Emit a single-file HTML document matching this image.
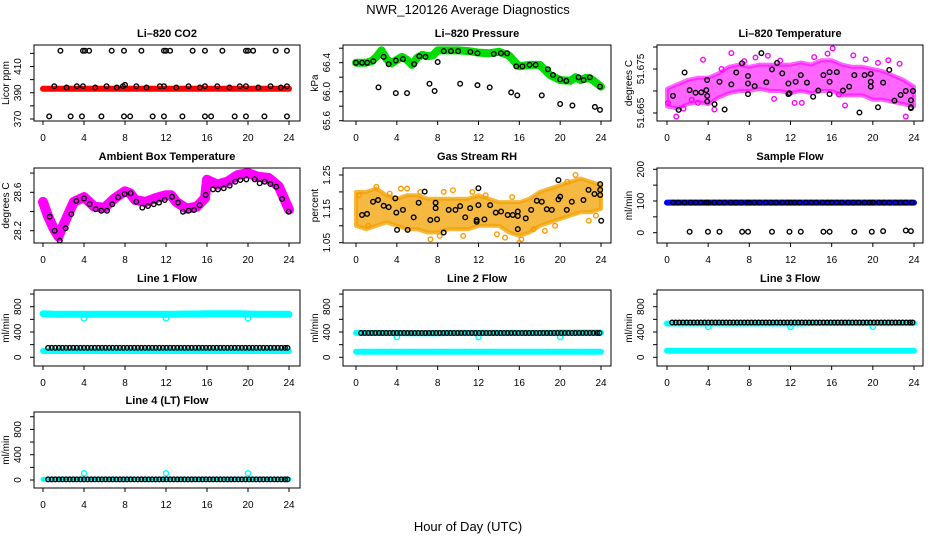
<!DOCTYPE html>
<html><head><meta charset="utf-8">
<style>
html,body{margin:0;padding:0;background:#fff;}
svg{display:block;font-family:"Liberation Sans",Arial,sans-serif;}
.tl{font-size:10px;fill:#000;}
.tt{font-size:11px;font-weight:bold;fill:#000;}
</style></head>
<body>
<svg id="chart" width="936" height="540" viewBox="0 0 936 540" xmlns="http://www.w3.org/2000/svg">
<text x="468" y="14" text-anchor="middle" font-size="13">NWR_120126  Average Diagnostics</text>
<text x="468" y="531" text-anchor="middle" font-size="13">Hour of Day (UTC)</text>
</svg>
<script>
// ---------- data ----------
const hours = [0,1,2,3,4,5,6,7,8,9,10,11,12,13,14,15,16,17,18,19,20,21,22,23,24];
const xTicks = [0,4,8,12,16,20,24];

// CO2
const co2Band = [393,393,393,393,393,393,393,393,393,393,393,393,393,393,393,393,393,393,393,393,393,393,393,393,393];
const co2MidT = [1.1,2.3,3.3,3.9,5.1,6.2,7.2,7.8,8,9.1,10.1,11.4,11.8,13,14.2,15.3,15.8,17,18.2,19.2,19.8,21,22.2,23.2,23.8];
const co2MidV = [395,394,395,395,394,395,394,395,396,395,394,395,395,394,395,394,395,395,394,395,395,394,395,394,395];
const co2HiT = [1.7,3.9,4.1,4.5,6.7,7.9,9.6,11.8,12,12.4,14.6,15.8,17.5,19.8,20,20.5,22.7,23.8];
const co2HiV = [422,422,422,422,422,422,422,422,422,422,422,422,422,422,422,422,422,422];
const co2LoT = [0.6,2.7,3.8,5.7,7.9,8.5,10.7,11.8,13.6,15.8,16.4,18.7,19.8,21.6,23.8];
const co2LoV = [372,372,372,372,372,372,372,372,372,372,372,372,372,372,372];

// Pressure
const presBandT = [0,1,1.5,2,2.5,3,3.5,4,4.5,5,5.5,6,6.5,7,7.5,8,9,10,11,12,13,14,15,15.5,16,17,18,19,20,21,21.5,22,22.5,23,24];
const presBandV = [66.40,66.40,66.42,66.48,66.57,66.45,66.39,66.44,66.48,66.44,66.37,66.47,66.51,66.49,66.50,66.57,66.57,66.57,66.56,66.54,66.53,66.55,66.50,66.42,66.35,66.37,66.37,66.23,66.16,66.15,66.20,66.16,66.19,66.18,66.07];
const presMidT = [0,0.6,1.1,1.7,2.7,3.2,3.9,4.6,5.7,6.2,6.8,8,8.6,9.3,10,11.2,11.9,13.5,14.2,14.8,15.7,16.3,17,17.6,18.8,19.3,20,20.6,21.8,22.3,22.9,23.9];
const presMidV = [66.40,66.40,66.40,66.42,66.48,66.38,66.43,66.45,66.38,66.49,66.48,66.41,66.56,66.56,66.56,66.55,66.53,66.52,66.53,66.53,66.35,66.35,66.37,66.37,66.31,66.23,66.17,66.15,66.20,66.16,66.20,66.07];
const presLoT = [2.2,3.9,5.0,7.2,7.7,10.2,11.9,13.1,15.2,15.8,18.2,20,21.2,23.4,23.9];
const presLoV = [66.06,65.98,65.98,66.11,66.01,66.11,66.09,66.06,65.99,65.95,65.95,65.83,65.81,65.79,65.75];

// Li-820 Temperature
const tempLo = [51.6665,51.6660,51.6670,51.6675,51.6670,51.6685,51.6695,51.6700,51.6700,51.6705,51.6700,51.6700,51.6695,51.6700,51.6695,51.6700,51.6700,51.6690,51.6690,51.6690,51.6680,51.6680,51.6675,51.6670,51.6665];
const tempHi = [51.6705,51.6715,51.6725,51.6730,51.6730,51.6740,51.6755,51.6760,51.6755,51.6760,51.6760,51.6760,51.6760,51.6765,51.6760,51.6770,51.6770,51.6760,51.6755,51.6755,51.6750,51.6745,51.6735,51.6725,51.6710];
const tempScatT = [0.1,0.9,3.0,3.5,4.6,6.25,12.4,13.1,16.1,17.3,18.1,20.5,23.2,1.6,5.3,7.5,9.8,11.0,14.3,15.6,19.3,21.5,22.6,2.4,8.6,10.4,16.7];
const tempScatV = [51.6673,51.6642,51.6673,51.6771,51.6658,51.6786,51.6673,51.6673,51.6797,51.6667,51.6781,51.6764,51.6642,51.6660,51.6750,51.6768,51.6780,51.6769,51.6777,51.6785,51.6772,51.6770,51.6762,51.6680,51.6776,51.6682,51.6692];
const tempMidT = [0.58,1.13,1.71,2.2,2.78,3.33,3.82,3.91,3.91,4.62,3.9,5.1,5.6,6.25,6.73,7.29,7.87,7.87,7.87,8.52,9.17,9.65,10.2,10.7,11.2,11.8,11.8,11.9,12.5,13.0,13.6,14.2,14.7,15.2,15.8,15.8,15.8,16.5,17.1,17.7,18.2,18.7,19.2,19.8,19.8,19.8,20.5,21.0,21.6,22.1,22.7,23.2,23.9,23.7,23.7,23.7];
const tempMidV = [51.6689,51.6657,51.6742,51.6702,51.6696,51.6697,51.6702,51.6689,51.6676,51.6670,51.6725,51.6721,51.6658,51.6715,51.6742,51.6763,51.6734,51.6717,51.6693,51.6711,51.6786,51.6720,51.6749,51.6764,51.6740,51.6717,51.6693,51.6695,51.6721,51.6736,51.6719,51.6687,51.6701,51.6736,51.6721,51.6693,51.6743,51.6743,51.6701,51.6710,51.6736,51.6651,51.6736,51.6721,51.6739,51.6710,51.6663,51.6719,51.6748,51.6678,51.6691,51.6700,51.6700,51.6679,51.6663,51.6661];

// Ambient Box Temperature
const ambBandT = [0,0.5,1,1.5,2,2.5,3,4,4.5,5,6,7,8,8.5,9,10,11,12,12.5,13,14,15,15.8,16,17,18,19,20,21,22,23,23.5,24];
const ambBandV = [28.50,28.35,28.23,28.14,28.26,28.38,28.50,28.55,28.50,28.45,28.44,28.54,28.61,28.59,28.52,28.50,28.54,28.57,28.57,28.50,28.43,28.45,28.54,28.73,28.68,28.71,28.78,28.80,28.76,28.75,28.66,28.54,28.42];
const ambMidT = [0.65,1.14,1.63,2.21,2.76,3.25,4.0,4.55,5.14,5.69,6.24,6.76,7.32,7.97,8.55,9.1,9.69,10.24,10.8,11.32,11.87,12.59,13.17,13.66,14.21,14.73,15.28,15.87,16.59,17.07,17.63,18.21,18.76,19.25,19.84,20.65,21.14,21.63,22.18,22.76,23.32,23.97];
const ambMidV = [28.346,28.200,28.096,28.225,28.374,28.509,28.537,28.478,28.423,28.408,28.408,28.475,28.548,28.582,28.590,28.502,28.440,28.457,28.475,28.492,28.520,28.554,28.492,28.398,28.408,28.416,28.465,28.572,28.631,28.631,28.642,28.669,28.710,28.728,28.735,28.735,28.694,28.710,28.686,28.658,28.530,28.398];

// Gas Stream RH
const rhLo = [1.10,1.09,1.10,1.11,1.10,1.09,1.09,1.08,1.08,1.09,1.09,1.09,1.10,1.10,1.10,1.08,1.07,1.08,1.10,1.11,1.12,1.13,1.14,1.14,1.15];
const rhHi = [1.20,1.20,1.21,1.19,1.18,1.19,1.19,1.18,1.18,1.18,1.18,1.18,1.19,1.18,1.17,1.17,1.17,1.18,1.20,1.21,1.22,1.23,1.24,1.23,1.22];
const rhScatT = [4.4,5.0,8.6,7.3,8.2,1.2,16.2,16.0,21.5,20.7,15.3,12.7,2.0,3.3,6.3,10.5,13.8,18.5,22.8,23.5,0.3,9.5,14.6,19.5,11.4,17.4];
const rhScatV = [1.21,1.21,1.20,1.06,1.07,1.10,1.06,1.05,1.25,1.23,1.185,1.19,1.215,1.195,1.20,1.07,1.075,1.085,1.115,1.13,1.19,1.205,1.065,1.10,1.20,1.09];
const rhMidT = [0.59,1.08,1.67,2.16,2.71,3.2,3.85,3.95,4.02,4.6,5.06,5.65,6.14,6.73,7.28,7.8,7.8,7.94,8.59,9.08,9.74,10.2,10.7,11.18,11.82,11.82,11.99,11.99,12.58,13.14,13.69,14.21,14.86,15.36,15.85,15.85,15.85,16.63,17.16,17.71,18.2,18.69,19.18,19.83,19.83,20.0,20.65,21.14,22.28,22.78,23.36,23.92,23.92,23.92,24.02];
const rhMidV = [1.132,1.135,1.171,1.176,1.159,1.155,1.181,1.139,1.088,1.147,1.088,1.125,1.168,1.201,1.117,1.168,1.152,1.119,1.080,1.147,1.147,1.158,1.125,1.152,1.117,1.112,1.211,1.161,1.119,1.161,1.139,1.142,1.132,1.132,1.142,1.129,1.090,1.122,1.147,1.174,1.171,1.149,1.147,1.235,1.178,1.186,1.147,1.171,1.176,1.206,1.194,1.223,1.206,1.191,1.115];

// Sample Flow
const sampBand = [95,95,95,95,95,95,95,95,95,95,95,95,95,95,95,95,95,95,95,95,95,95,95,95,95];
const sampMidT = [0.6,1.1,1.7,2.3,2.8,3.3,3.8,4,4.6,5.1,5.6,6.2,6.7,7.2,7.8,8,8.5,9,9.6,10.1,10.6,11.2,11.7,12,12.4,12.9,13.5,14,14.5,15.1,15.6,16,16.5,17,17.6,18.1,18.6,19.2,19.7,20,20.6,21.1,21.6,22.2,22.7,23.2,23.8];
const sampMidV = [95,95,95,95,95,95,95,95,95,95,95,95,95,95,95,95,95,95,95,95,95,95,95,95,95,95,95,95,95,95,95,95,95,95,95,95,95,95,95,95,95,95,95,95,95,95,95];
const sampLoT = [2.2,3.98,5.1,7.3,7.87,10.2,11.9,13.0,15.2,15.8,18.2,19.9,21.0,23.2,23.7];
const sampLoV = [3,3,3,3,3,3,3,3,3,3,3,3,5,7,5];

// Line flows
const flowT = [0.5,0.85,1.2,1.55,1.9,2.25,2.6,2.95,3.3,3.65,4.0,4.35,4.7,5.05,5.4,5.75,6.1,6.45,6.8,7.15,7.5,7.85,8.2,8.55,8.9,9.25,9.6,9.95,10.3,10.65,11.0,11.35,11.7,12.05,12.4,12.75,13.1,13.45,13.8,14.15,14.5,14.85,15.2,15.55,15.9,16.25,16.6,16.95,17.3,17.65,18.0,18.35,18.7,19.05,19.4,19.75,20.1,20.45,20.8,21.15,21.5,21.85,22.2,22.55,22.9,23.25,23.6,23.85];
const dipT = [4,12,20];
const l1High = [690,680,680,680,680,680,680,680,680,680,680,680,680,680,685,685,690,690,690,690,685,680,680,680,680];
const l1Low = [100,100,100,100,100,100,100,100,100,100,100,100,100,100,100,100,100,100,100,100,100,100,100,100,100];
const l1Mid = 150;
const l1Dip = [615,615,615];
const l2High = [385,385,385,385,385,380,380,380,380,385,385,385,385,385,385,385,385,385,385,385,390,390,390,390,390];
const l2Low = [88,88,88,88,88,88,88,88,88,88,88,88,88,88,88,88,88,88,88,88,88,88,88,88,88];
const l2Mid = 385;
const l2Dip = [320,320,320];
const l3High = [535,535,535,535,535,535,535,535,535,535,535,535,535,535,540,540,540,540,540,540,540,540,540,540,540];
const l3Low = [104,104,104,104,104,104,104,104,104,104,104,104,104,104,104,104,104,104,104,104,104,104,104,104,104];
const l3Mid = 550;
const l3Dip = [480,480,480];
const l4Band = [10,10,10,10,10,10,10,10,10,10,10,10,10,10,10,10,10,10,10,10,10,10,10,10,10];
const l4Mid = 10;
const l4Dip = [105,105,105];

// ---------- layout ----------
const svg = document.getElementById('chart');
const NS = 'http://www.w3.org/2000/svg';
const COLS = [{l:34,r:300,x0:43,x24:289},{l:343,r:611,x0:356,x24:601},{l:657,r:923,x0:667,x24:914}];
const ROWS = [{t:45,b:121},{t:168,b:243},{t:290,b:366},{t:412,b:488}];

function mk(tag, attrs, parent){
  const e = document.createElementNS(NS, tag);
  for (const k in attrs) e.setAttribute(k, attrs[k]);
  (parent||svg).appendChild(e);
  return e;
}

function makePanel(key, title, ylab, ci, ri, v1, y1, v2, y2, yticks, ylabels, dec){
  const c = COLS[ci], r = ROWS[ri];
  const g = mk('g', {});
  
  
  const xs = t => c.x0 + t * (c.x24 - c.x0) / 24;
  const ys = v => y1 + (v - v1) * (y2 - y1) / (v2 - v1);
  const clipId = 'clip-' + key;
  const cp = mk('clipPath', {id: clipId}, g);
  mk('rect', {x:c.l, y:r.t, width:c.r-c.l, height:r.b-r.t}, cp);
  const marks = mk('g', {'clip-path':'url(#'+clipId+')'}, g);
  
  
  const box = mk('rect', {x:c.l, y:r.t, width:c.r-c.l, height:r.b-r.t, fill:'none', stroke:'#000', 'stroke-width':1}, g);
  
  
  const tt = mk('text', {x:(c.l+c.r)/2, y:r.t-8, 'text-anchor':'middle', class:'tt'}, g);
  tt.textContent = title;
  
  
  xTicks.forEach(t => {
    mk('line', {x1:xs(t), x2:xs(t), y1:r.b, y2:r.b+4, stroke:'#000'}, g);
    const tx = mk('text', {x:xs(t), y:r.b+20, 'text-anchor':'middle', class:'tl'}, g);
    tx.textContent = t;
    
    
  });
  yticks.forEach(v => {
    mk('line', {x1:c.l-4, x2:c.l, y1:ys(v), y2:ys(v), stroke:'#000'}, g);
  });
  ylabels.forEach(v => {
    const xx = c.l - 13, yy = ys(v);
    const ty = mk('text', {x:xx, y:yy, 'text-anchor':'middle', class:'tl', transform:'rotate(-90 '+xx+' '+yy+')'}, g);
    ty.textContent = v.toFixed(dec||0);
    
    
  });
  const yx = c.l - 25, yy = (r.t + r.b) / 2;
  const yl = mk('text', {x:yx, y:yy, 'text-anchor':'middle', class:'tl', transform:'rotate(-90 '+yx+' '+yy+')'}, g);
  yl.textContent = ylab;
  
  
  return {marks, xs, ys};
}

function pts(p, T, V, color, name, rr){
  T.forEach((t, i) => {
    const e = mk('circle', {cx:p.xs(t), cy:p.ys(V[i]), r:rr||2.3, fill:'none', stroke:color, 'stroke-width':1.4}, p.marks);
    
    
  });
}
function line(p, T, V, color, w, name){
  const d = T.map((t,i)=>(i?'L':'M')+p.xs(t).toFixed(1)+' '+p.ys(V[i]).toFixed(1)).join(' ');
  const e = mk('path', {d, fill:'none', stroke:color, 'stroke-width':w, 'stroke-linejoin':'round', 'stroke-linecap':'round'}, p.marks);
  
  
}
function band(p, T, lo, hi, color, op, name){
  let d = T.map((t,i)=>(i?'L':'M')+p.xs(t).toFixed(1)+' '+p.ys(hi[i]).toFixed(1)).join(' ');
  for (let i=T.length-1;i>=0;i--) d += ' L'+p.xs(T[i]).toFixed(1)+' '+p.ys(lo[i]).toFixed(1);
  const e = mk('path', {d:d+' Z', fill:color, 'fill-opacity':op, stroke:color, 'stroke-width':4, 'stroke-opacity':op, 'stroke-linejoin':'round'}, p.marks);
  
  
}
const constArr = (n, v) => Array(n).fill(v);

let p = makePanel('co2','Li\u2013820 CO2','Licor ppm',0,0,370,119,410,66.5,[370,380,390,400,410,420],[370,390,410],0);
line(p, hours, co2Band, '#ff0000', 6, 'co2-band');
pts(p, co2MidT, co2MidV, '#000', 'co2-point');
pts(p, co2HiT, co2HiV, '#000', 'co2-high-point');
pts(p, co2LoT, co2LoV, '#000', 'co2-low-point');

p = makePanel('pressure','Li\u2013820 Pressure','kPa',1,0,66.0,91.7,66.4,62.7,[65.6,65.8,66.0,66.2,66.4,66.6],[65.6,66.0,66.4],1);
line(p, presBandT, presBandV, '#00dd00', 8, 'pressure-band');
pts(p, presMidT, presMidV, '#000', 'pressure-point');
pts(p, presLoT, presLoV, '#000', 'pressure-low-point');

p = makePanel('temperature','Li\u2013820 Temperature','degrees C',2,0,51.665,113,51.675,69,[51.665,51.670,51.675,51.680],[51.665,51.675],3);
band(p, hours, tempLo, tempHi, '#ff00ff', 0.6, 'temperature-band');
pts(p, tempScatT, tempScatV, '#ff00ff', 'temperature-scatter');
pts(p, tempMidT, tempMidV, '#000', 'temperature-point');

p = makePanel('ambient','Ambient Box Temperature','degrees C',0,1,28.2,230.7,28.6,192.3,[28.2,28.4,28.6,28.8],[28.2,28.6],1);
line(p, ambBandT, ambBandV, '#ff00ff', 10, 'ambient-band');
pts(p, ambMidT, ambMidV, '#000', 'ambient-point');

p = makePanel('rh','Gas Stream RH','percent',1,1,1.05,242.7,1.25,175,[1.05,1.10,1.15,1.20,1.25],[1.05,1.15,1.25],2);
band(p, hours, rhLo, rhHi, '#f2a000', 0.75, 'rh-band');
pts(p, rhScatT, rhScatV, '#ff9900', 'rh-scatter');
pts(p, rhMidT, rhMidV, '#000', 'rh-point');

p = makePanel('sample-flow','Sample Flow','ml/min',2,1,0,232.7,200,169.3,[0,50,100,150,200],[0,100,200],0);
line(p, hours, sampBand, '#0000ff', 6, 'sample-flow-band');
pts(p, sampMidT, sampMidV, '#000', 'sample-flow-point');
pts(p, sampLoT, sampLoV, '#000', 'sample-flow-low-point');

const fTicks = [0,200,400,600,800,1000], fLabels = [0,400,800];
p = makePanel('line1','Line 1 Flow','ml/min',0,2,0,357.3,800,306.7,fTicks,fLabels,0);
line(p, hours, l1High, '#00ffff', 7, 'line1-high-band');
line(p, hours, l1Low, '#00ffff', 6, 'line1-low-band');
pts(p, dipT, l1Dip, '#00ffff', 'line1-dip-point', 2.6);
pts(p, flowT, constArr(flowT.length, l1Mid), '#000', 'line1-point');

p = makePanel('line2','Line 2 Flow','ml/min',1,2,0,357.3,800,306.7,fTicks,fLabels,0);
line(p, hours, l2High, '#00ffff', 6, 'line2-high-band');
line(p, hours, l2Low, '#00ffff', 6, 'line2-low-band');
pts(p, dipT, l2Dip, '#00ffff', 'line2-dip-point', 2.6);
pts(p, flowT, constArr(flowT.length, l2Mid), '#000', 'line2-point');

p = makePanel('line3','Line 3 Flow','ml/min',2,2,0,357.3,800,306.7,fTicks,fLabels,0);
line(p, hours, l3High, '#00ffff', 6, 'line3-high-band');
line(p, hours, l3Low, '#00ffff', 6, 'line3-low-band');
pts(p, dipT, l3Dip, '#00ffff', 'line3-dip-point', 2.6);
pts(p, flowT, constArr(flowT.length, l3Mid), '#000', 'line3-point');

p = makePanel('line4','Line 4 (LT) Flow','ml/min',0,3,0,480,800,429.4,fTicks,fLabels,0);
line(p, hours, l4Band, '#00ffff', 5, 'line4-band');
pts(p, dipT, l4Dip, '#00ffff', 'line4-dip-point', 2.6);
pts(p, flowT, constArr(flowT.length, l4Mid), '#000', 'line4-point');
</script>
</body></html>
